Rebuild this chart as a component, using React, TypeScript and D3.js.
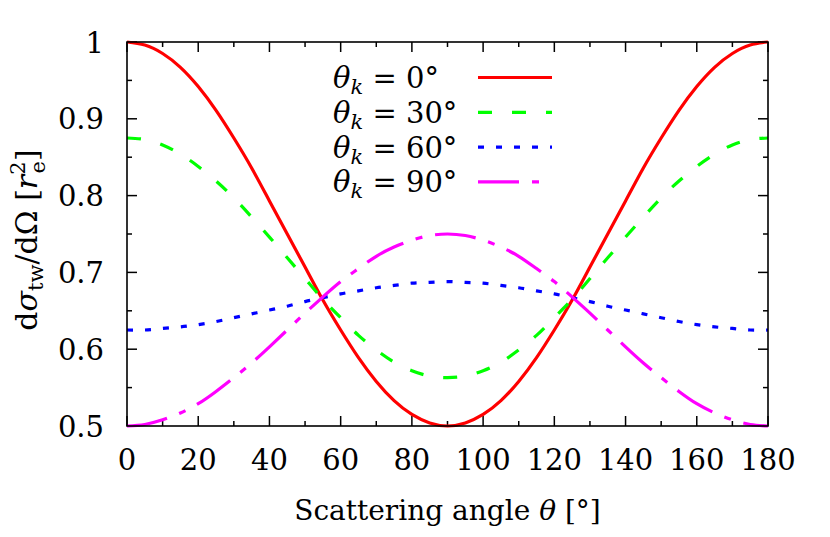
import React from "react";
import * as d3 from "d3";

const angles = [0,5,10,15,20,25,30,35,40,45,50,55,60,65,70,75,80,85,90,95,100,105,110,115,120,125,130,135,140,145,150,155,160,165,170,175,180];
const s0 = [1.000,0.996,0.985,0.967,0.942,0.911,0.875,0.836,0.793,0.750,0.707,0.664,0.625,0.589,0.558,0.533,0.515,0.504,0.500,0.504,0.515,0.533,0.558,0.589,0.625,0.664,0.707,0.750,0.793,0.836,0.875,0.911,0.942,0.967,0.985,0.996,1.000];
const s30 = [0.875,0.873,0.866,0.854,0.838,0.819,0.797,0.772,0.746,0.719,0.692,0.665,0.641,0.618,0.599,0.583,0.572,0.565,0.563,0.565,0.572,0.583,0.599,0.618,0.641,0.665,0.692,0.719,0.746,0.772,0.797,0.819,0.838,0.854,0.866,0.873,0.875];
const s60 = [0.625,0.625,0.627,0.629,0.632,0.636,0.641,0.646,0.651,0.656,0.662,0.667,0.672,0.676,0.680,0.683,0.686,0.687,0.688,0.687,0.686,0.683,0.680,0.676,0.672,0.667,0.662,0.656,0.651,0.646,0.641,0.636,0.632,0.629,0.627,0.625,0.625];
const s90 = [0.500,0.502,0.508,0.517,0.529,0.545,0.563,0.582,0.603,0.625,0.647,0.668,0.688,0.705,0.721,0.733,0.742,0.748,0.750,0.748,0.742,0.733,0.721,0.705,0.688,0.668,0.647,0.625,0.603,0.582,0.563,0.545,0.529,0.517,0.508,0.502,0.500];

const legendLabels = ["0°", "30°", "60°", "90°"];
const xTicks = [0,20,40,60,80,100,120,140,160,180];
const xMinor = [10,30,50,70,90,110,130,150,170];
const yTicks = [0.5,0.6,0.7,0.8,0.9,1.0];
const yTickLabels = ["0.5","0.6","0.7","0.8","0.9","1"];
const yMinor = [0.55,0.65,0.75,0.85,0.95];

const series = [
  { vals: s0, color: "#ff0000", dash: "none" },
  { vals: s30, color: "#00ff00", dash: "14,20" },
  { vals: s60, color: "#0000ff", dash: "6,12" },
  { vals: s90, color: "#ff00ff", dash: "41,13,7,13" },
];

const W = 830, H = 537;
const L = 127, R = 768, T = 42, B = 426;
const FONT = "'DejaVu Serif'";

export default function App() {
  const x = d3.scaleLinear().domain([0, 180]).range([L, R]);
  const y = d3.scaleLinear().domain([0.5, 1]).range([B, T]);
  const line = d3.line<number>().x((_, i) => x(angles[i])).y((v) => y(v)).curve(d3.curveNatural);

  return (
    <svg width={W} height={H} style={{ position: "absolute", left: 0, top: 0, background: "#fff", fontFamily: FONT }}>
      <defs>
        <clipPath id="clip"><rect x={L} y={T - 2} width={R - L} height={B - T + 4} /></clipPath>
      </defs>
      <g stroke="#000" strokeWidth={1.5}>
        {xTicks.map((t) => (
          <g key={"xt" + t}>
            <line x1={x(t)} x2={x(t)} y1={B} y2={B - 10} />
            <line x1={x(t)} x2={x(t)} y1={T} y2={T + 10} />
          </g>
        ))}
        {xMinor.map((t) => (
          <g key={"xm" + t}>
            <line x1={x(t)} x2={x(t)} y1={B} y2={B - 5} />
            <line x1={x(t)} x2={x(t)} y1={T} y2={T + 5} />
          </g>
        ))}
        {yTicks.map((t) => (
          <g key={"yt" + t}>
            <line x1={L} x2={L + 10} y1={y(t)} y2={y(t)} />
            <line x1={R} x2={R - 10} y1={y(t)} y2={y(t)} />
          </g>
        ))}
        {yMinor.map((t) => (
          <g key={"ym" + t}>
            <line x1={L} x2={L + 5} y1={y(t)} y2={y(t)} />
            <line x1={R} x2={R - 5} y1={y(t)} y2={y(t)} />
          </g>
        ))}
      </g>
      <g clipPath="url(#clip)" fill="none" strokeWidth={3.2}>
        {series.map((s, i) => (
          <path key={i} d={line(s.vals) || ""} stroke={s.color} strokeDasharray={s.dash} />
        ))}
      </g>
      <rect x={L} y={T} width={R - L} height={B - T} fill="none" stroke="#000" strokeWidth={1.6} />
      <g fill="#000" style={{ fontSize: 29 }}>
        {xTicks.map((t) => (
          <text key={"xl" + t} x={x(t)} y={470} textAnchor="middle">{t}</text>
        ))}
        {yTicks.map((t, i) => (
          <text key={"yl" + t} x={104} y={y(t) + 10.5} textAnchor="end">{yTickLabels[i]}</text>
        ))}
      </g>
      <text x={(L + R) / 2} y={520} textAnchor="middle" style={{ fontSize: 28 }}>
        Scattering angle <tspan fontStyle="italic">θ</tspan> [°]
      </text>
      <text transform={`translate(37, 240) rotate(-90)`} textAnchor="middle" style={{ fontSize: 30 }}>
        d<tspan fontStyle="italic">σ</tspan>
        <tspan style={{ fontSize: 21 }} dy={6}>tw</tspan>
        <tspan dy={-6}>/dΩ [</tspan>
        <tspan fontStyle="italic">r</tspan>
        <tspan style={{ fontSize: 21 }} dy={-12}>2</tspan>
        <tspan style={{ fontSize: 21 }} dx={-12} dy={20}>e</tspan>
        <tspan dy={-8}>]</tspan>
      </text>
      {series.map((s, i) => {
        const ly = 77.5 + i * 34.8;
        return (
          <g key={"lg" + i}>
            <text x={333} y={ly + 10.5} style={{ fontSize: 29 }}>
              <tspan fontStyle="italic">θ</tspan>
              <tspan fontStyle="italic" style={{ fontSize: 21 }} dy={6}>k</tspan>
              <tspan dy={-6}> = {legendLabels[i]}</tspan>
            </text>
            <line x1={478} x2={552} y1={ly} y2={ly} stroke={s.color} strokeWidth={3.2} strokeDasharray={s.dash} />
          </g>
        );
      })}
    </svg>
  );
}
